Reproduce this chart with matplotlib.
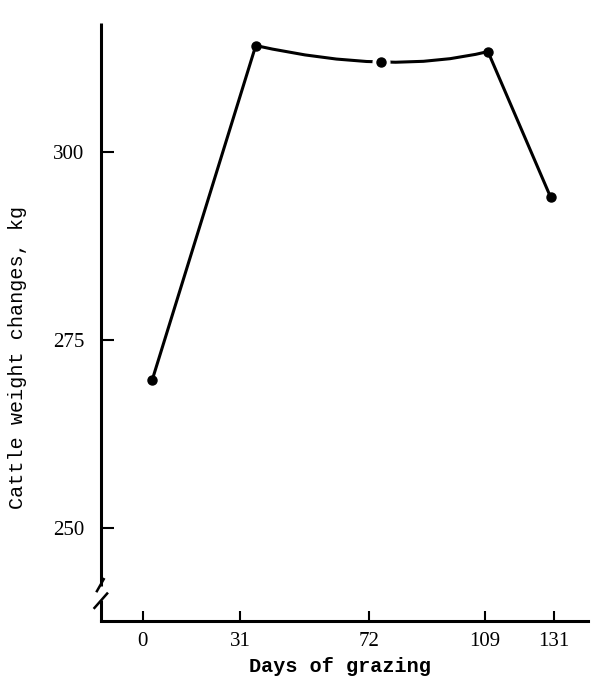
import matplotlib
matplotlib.use("Agg")
import matplotlib.pyplot as plt
from matplotlib.path import Path
from matplotlib.patches import PathPatch

# Data
days = [3, 36, 76, 110, 130]
weight = [269.7, 314.2, 312.0, 313.4, 294.0]
xtick_vals = [0, 31, 72, 109, 131]
xtick_labels = ["0", "31", "72", "109", "131"]
ytick_vals = [250, 275, 300]
ytick_labels = ["250", "275", "300"]

fig = plt.figure(figsize=(6.0, 6.87), dpi=100)
ax = fig.add_axes([0.168, 0.096, 0.812, 0.8705])
ax.set_xlim(-13.4, 141.9)
ax.set_ylim(237.6, 317.2)

lw = 2.2
# straight segments
ax.plot(days[:2], weight[:2], color="black", lw=lw, solid_capstyle="round", zorder=2)
ax.plot(days[3:], weight[3:], color="black", lw=lw, solid_capstyle="round", zorder=2)
# smooth sagging segment through the middle point
p2, p3, p4 = (days[1], weight[1]), (days[2], weight[2]), (days[3], weight[3])
ctrl = (2 * p3[0] - (p2[0] + p4[0]) / 2, 2 * p3[1] - (p2[1] + p4[1]) / 2)
path = Path([p2, ctrl, p4], [Path.MOVETO, Path.CURVE3, Path.CURVE3])
ax.add_patch(PathPatch(path, fill=False, edgecolor="black", lw=lw, zorder=2))
# gap around middle point
ax.plot([days[2]], [weight[2]], "o", color="white", ms=12, zorder=3)
ax.plot(days, weight, "o", color="black", ms=6.5, zorder=4)

# spines
for s in ["top", "right"]:
    ax.spines[s].set_visible(False)
ax.spines["bottom"].set_linewidth(2.2)
ax.spines["left"].set_visible(False)
# left spine with break
kw = dict(transform=ax.transAxes, color="black", lw=2.2, clip_on=False, solid_capstyle="butt")
ax.plot([0, 0], [0.058, 1.0], **kw)
ax.plot([0, 0], [-0.002, 0.035], **kw)
ax.plot([-0.008, 0.006], [0.050, 0.070], color="black", lw=1.8, transform=ax.transAxes, clip_on=False)
ax.plot([-0.013, 0.013], [0.022, 0.046], color="black", lw=1.8, transform=ax.transAxes, clip_on=False)

ax.set_xticks(xtick_vals)
ax.set_xticklabels(xtick_labels)
ax.set_yticks(ytick_vals)
ax.set_yticklabels(ytick_labels)
ax.tick_params(axis="y", direction="in", length=9, width=1.5, pad=12)
ax.tick_params(axis="x", direction="in", length=7, width=1.5, pad=8)
for lab in ax.get_xticklabels() + ax.get_yticklabels():
    lab.set_fontfamily("Liberation Serif")
    lab.set_fontsize(15)

ax.set_xlabel("Days of grazing", fontfamily="Liberation Mono", fontsize=14.5, fontweight="bold")
ax.xaxis.set_label_coords(0.49, -0.060)
ax.set_ylabel("Cattle weight changes, kg", fontfamily="Liberation Mono", fontsize=14.5)
ax.yaxis.set_label_coords(-0.152, 0.44)

fig.savefig("out.png", dpi=100)
